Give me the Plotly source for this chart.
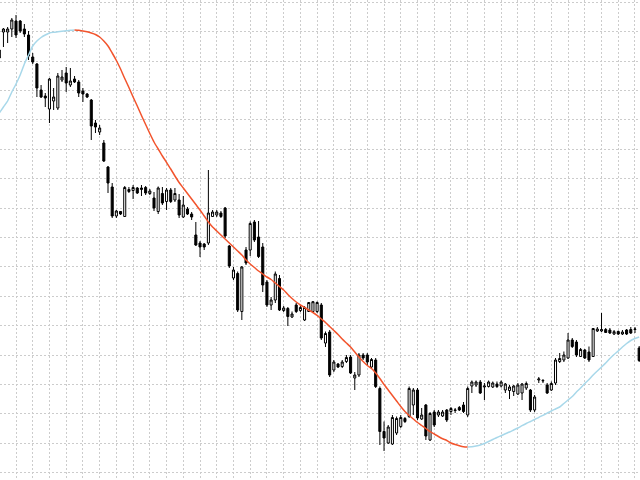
import plotly.graph_objects as go

# candle index (bar number)
bar = list(range(154))

open_ = [430, 448, 448, 451, 459, 459, 451, 445, 423, 416, 390, 384, 371, 379, 372, 400, 407, 395, 401, 398,
         389, 386, 380, 357, 348, 337, 313, 293, 264, 268.5, 263.5, 288.5, 289.5, 292, 290.5, 292.5, 286.5, 282, 268.5, 286.5,
         278.5, 290, 280, 280, 263, 271, 266, 245, 237, 236, 237, 263.5, 265, 267, 272, 234, 202, 206.5, 168.5, 230,
         230, 258, 243, 233, 198, 175, 180, 201.5, 169.5, 171.5, 163, 175, 169.5, 160, 168.5, 168.5, 168.5, 175, 137, 148,
         110, 116, 113.5, 118.5, 123, 102, 105, 125, 125, 113, 120, 91.5, 48.5, 37, 36, 47, 53.5, 61.5, 63.5, 75,
         90, 61, 75, 40, 68, 65, 64, 70, 68.5, 69.5, 72.5, 75, 65, 94, 95, 98, 93, 93.5, 93, 96,
         94, 90, 89.5, 88.5, 86, 87, 92, 90, 70, 100, 99, 95, 90, 97, 118.5, 120, 122, 140, 138, 123.5,
         130, 128, 123.5, 149, 149, 150.5, 150, 146, 148.5, 146, 150, 150.5, 150.5, 132]
high = [435, 452, 453, 462, 465, 460, 456, 449, 427, 417, 395, 387, 402, 392, 407, 410, 413, 412, 404, 400,
        392, 387, 381, 360, 355, 340, 314, 297, 270, 269, 294, 293, 295, 293, 295, 294, 291, 288, 293.5, 293,
        292, 292, 292, 286, 284, 273, 268, 258, 239, 237, 310, 270, 270, 269, 273, 235, 213, 208.5, 214, 233,
        258.5, 260, 259, 237, 200, 183, 208.5, 205, 174, 173, 168.5, 177, 175, 174, 178, 179, 178.5, 177, 148.5, 150,
        120, 117, 120, 125, 125, 108, 127, 127, 127, 122, 122, 93.5, 58.5, 55, 65, 63.5, 65, 63, 93.5, 92,
        92, 72, 76, 68, 70, 70, 70, 71, 73, 72, 74, 78, 93.5, 99.5, 99.5, 100, 97, 99.5, 98.5, 98.5,
        99.5, 97, 95, 95, 97, 97, 98.5, 91, 85, 103, 101, 97, 98.5, 122, 127, 128.5, 147, 142, 140, 132,
        131, 133.5, 152, 153, 167, 152, 152, 150, 149.5, 150, 151, 153, 153, 134]
low = [418, 433, 437, 443, 442, 447, 443, 420, 416, 383, 382, 373, 357, 370, 370, 398, 388, 393, 397, 383,
       378, 382, 340, 347, 345, 318, 287, 262, 262, 265, 263, 287, 281, 286, 284, 285, 285, 269, 266, 275,
       270, 277, 278, 262, 262, 265, 260, 234, 223, 230, 235, 263, 263, 262, 242, 212, 200, 168, 160, 215,
       224, 238, 222, 188, 173, 170, 177, 169, 168, 154, 162, 167, 168, 159, 168, 168, 167, 140, 133, 103,
       108, 112, 112, 117, 106, 90, 103, 120, 115, 111, 92, 35, 29, 36, 35, 45, 52, 57, 62, 65,
       60, 60, 40, 39, 53, 63, 63, 58, 65, 67, 69, 67, 63, 87, 93, 86, 80, 92.5, 92, 92,
       92.5, 87, 81, 84, 85, 80, 90, 68, 68, 97, 97, 86, 89, 95, 117, 118, 121, 132, 123, 123,
       121, 118, 123, 148, 148, 147, 146, 145, 145, 145, 145, 146, 147, 118]
close = [422, 451, 451, 460, 445, 449, 446, 424, 418, 392, 383, 382, 401, 383, 404, 403, 397, 399, 398, 387,
         386, 383, 354, 353, 352, 319, 297, 264, 269, 266, 292.5, 290.5, 292.5, 287, 292, 287, 289, 272, 292, 277,
         290, 278.5, 286.5, 265, 275, 266, 263, 235, 233, 233, 267, 268, 268, 263.5, 244, 214, 210, 170, 213, 217,
         256.5, 240, 223.5, 195, 175, 180, 206, 170, 172, 163.5, 166, 168.5, 172.5, 172.5, 177.5, 178.3, 177.5, 142, 146.5, 105,
         118, 113, 118, 122.5, 107, 105, 125, 122, 118, 120.5, 93.5, 48.5, 42, 53, 62.5, 61.5, 62.5, 58.5, 91.5, 90,
         62, 65, 44, 66.5, 55, 68, 68, 60, 71.5, 70, 70, 68.5, 91.5, 98, 98, 87, 94, 98, 97, 93.5,
         98, 96, 93, 94, 95, 96, 96.5, 70, 83, 101, 99.5, 87, 96.5, 120, 121.5, 125, 140, 133.5, 125, 130.5,
         122, 120, 151.5, 151, 150.5, 147.5, 147, 148.3, 146, 148, 146, 147, 151, 119.5]

# smoothed moving average
ma = [367, 373, 379, 388, 396, 405, 416, 425, 434, 439, 442.5, 445, 447, 447.7, 448.2, 448.7, 449.2, 449.7, 450, 449.7,
      449, 448.2, 447, 445.5, 443, 439, 434, 427, 419.5, 411, 401.5, 392.5, 383, 374, 364.5, 355.5, 346.5, 338, 331, 324,
      317.5, 311, 304, 297.5, 292, 286.5, 281, 275.5, 270, 264, 258, 253, 249, 245, 241, 237, 233, 229, 225, 220,
      216, 212.5, 209, 206, 203, 200.5, 197, 193.5, 190, 185.5, 181.5, 178, 175, 172.5, 170, 167.5, 164.7, 161, 157.5, 153.5,
      149.5, 145.5, 141, 137, 133, 128, 123, 118.5, 114.5, 111.5, 107, 101.5, 95.5, 90, 84.5, 79, 73.5, 68.5, 64.5, 61,
      57.5, 54.5, 51.5, 48.3, 46, 43.5, 41.2, 39.5, 37, 35.5, 34.3, 33.3, 33, 33.2, 34, 35, 36.5, 38.5, 40.5, 42.5,
      44.3, 46.2, 48, 50, 52, 54.3, 56.5, 58.5, 60.5, 62.7, 64.7, 66.8, 69, 71, 73, 76.5, 80, 83.5, 88, 92,
      96.5, 100.5, 105, 109, 113, 117, 121.5, 125.5, 129, 133, 136.5, 139.5, 141.5, 143]

peak_bar = 18
trough_bar = 112

fig = go.Figure()

fig.add_trace(go.Candlestick(
    x=bar, open=open_, high=high, low=low, close=close,
    increasing=dict(fillcolor="white", line=dict(color="black", width=1)),
    decreasing=dict(fillcolor="black", line=dict(color="black", width=1)),
    whiskerwidth=0, showlegend=False, hoverinfo="skip",
))

blue = "#a8d8ea"
red = "#f2542d"
fig.add_trace(go.Scatter(x=bar[:peak_bar + 1], y=ma[:peak_bar + 1], mode="lines",
                         line=dict(color=blue, width=1.5, shape="spline", smoothing=0.6),
                         showlegend=False, hoverinfo="skip"))
fig.add_trace(go.Scatter(x=bar[peak_bar:trough_bar + 1], y=ma[peak_bar:trough_bar + 1], mode="lines",
                         line=dict(color=red, width=1.5, shape="spline", smoothing=0.6),
                         showlegend=False, hoverinfo="skip"))
fig.add_trace(go.Scatter(x=bar[trough_bar:], y=ma[trough_bar:], mode="lines",
                         line=dict(color=blue, width=1.5, shape="spline", smoothing=0.6),
                         showlegend=False, hoverinfo="skip"))

grid = dict(showgrid=True, gridcolor="#cccccc", gridwidth=1, griddash="2px,2px",
            showticklabels=False, zeroline=False, showline=False, ticks="")

fig.update_layout(
    width=640, height=480,
    margin=dict(l=0, r=0, t=0, b=0),
    paper_bgcolor="white", plot_bgcolor="white",
    showlegend=False,
    xaxis=dict(range=[0.175, 153.2], tick0=0, dtick=4, rangeslider=dict(visible=False), **grid),
    yaxis=dict(range=[0, 480], tick0=7.3, dtick=29.4, **grid),
    boxgap=0.3,
)

fig.write_html(
    "out.html",
    config={"staticPlot": True},
    post_script="document.body.style.margin='0';document.body.style.overflow='hidden';",
)
